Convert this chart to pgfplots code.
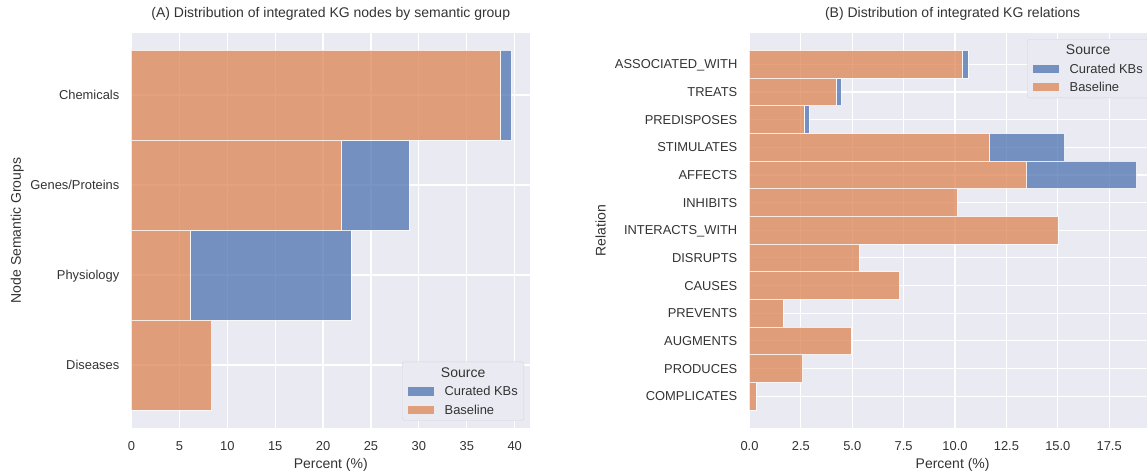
\documentclass[border=0pt]{standalone}
\usepackage{pgfplots}
\pgfplotsset{compat=1.18}
\usepackage{fontspec}
\setmainfont{Liberation Sans}

\definecolor{bg}{RGB}{234,234,242}
\definecolor{cblue}{RGB}{76,114,176}
\definecolor{corange}{RGB}{221,132,82}
\definecolor{legedge}{RGB}{212,212,218}

\newcommand\tickfont{\fontsize{12.9}{15}\selectfont}
\newcommand\labfont{\fontsize{14}{16.5}\selectfont}

\pgfplotsset{
  darkgrid/.style={
    scale only axis,
    axis background/.style={fill=bg},
    axis line style={draw=none},
    major tick length=0pt,
    tick style={draw=none},
    xmajorgrids, ymajorgrids,
    major grid style={white, line width=1.2pt},
    tick label style={font=\tickfont, text=black!80},
    /pgf/number format/assume math mode=true,
    xticklabel style={anchor=north, inner sep=0pt, yshift=-13.4pt},
    yticklabel style={anchor=base east, inner sep=0pt, xshift=-12pt, yshift=-4.6pt},
    label style={font=\labfont, text=black!80},
    title style={font=\labfont, text=black!80, anchor=south, inner sep=0pt, yshift=6.6pt},
    xlabel style={at={(axis description cs:0.5,0)}, anchor=north, inner sep=0pt, yshift=-30.3pt},
    ylabel style={at={(axis description cs:0,0.5)}, anchor=south, inner sep=0pt},
    xbar stacked, bar width=1, bar shift=0pt,
    y dir=reverse,
    legend style={
      font=\tickfont, text=black!80,
      fill=bg, draw=legedge, rounded corners=2.5pt,
      inner xsep=6pt, inner ysep=6.5pt,
      column sep=11pt, row sep=9.3pt,
      nodes={inner sep=0pt, text height=9pt, text depth=0pt},
    },
    legend cell align=left,
  },
  baseline bars/.style={fill=corange, fill opacity=0.75, draw=white, draw opacity=0.8, line width=0.6pt},
  curated bars/.style={fill=cblue, fill opacity=0.75, draw=white, draw opacity=0.8, line width=0.6pt},
  patch/.style={legend image code/.code={\fill[#1, sharp corners] (0pt,-3.8pt) rectangle (25pt,3.8pt);}},
}

\begin{document}
\begin{tikzpicture}[x=1pt, y=1pt]
\path[use as bounding box] (0,0) rectangle (1147,471);

% ---------- (A) node semantic groups ----------
\begin{axis}[
  darkgrid,
  at={(131.5pt,43pt)}, anchor=south west,
  width=398.5pt, height=395pt,
  xmin=0, xmax=41.6,
  ymin=-0.69, ymax=3.7,
  xtick={0,5,...,40},
  ytick={0,1,2,3},
  yticklabels={Chemicals, Genes/Proteins, Physiology, Diseases},
  title={(A) Distribution of integrated KG nodes by semantic group},
  title style={at={(axis description cs:0.5,1)}},
  xlabel={Percent (\%)},
  ylabel={Node Semantic Groups},
  ylabel style={yshift=107.4pt},
  legend style={at={(axis description cs:1,0)}, anchor=south east, xshift=-6pt, yshift=7.3pt},
]
% Baseline share (stack bottom)
\addplot[baseline bars, forget plot] coordinates {
  (38.50,0) (21.90,1) (6.15,2) (8.38,3)
};
% Curated KB share (stacked on top)
\addplot[curated bars, forget plot] coordinates {
  (1.15,0) (7.10,1) (16.75,2) (0,3)
};
\addlegendimage{empty legend}
\addlegendentry{\hspace*{-36pt}\makebox[109pt][c]{\labfont Source}}
\addlegendimage{patch={cblue!75!bg}}
\addlegendentry{Curated KBs}
\addlegendimage{patch={corange!75!bg}}
\addlegendentry{Baseline}
\end{axis}

% ---------- (B) relations ----------
\begin{axis}[
  darkgrid,
  at={(749.5pt,43pt)}, anchor=south west,
  width=397.5pt, height=395pt,
  xmin=0, xmax=19.34,
  ymin=-1.13, ymax=13.15,
  xtick={0,2.5,...,17.5},
  xticklabel={\pgfmathprintnumber[fixed, fixed zerofill, precision=1]{\tick}},
  ytick={0,...,12},
  yticklabels={ASSOCIATED\_WITH, TREATS, PREDISPOSES, STIMULATES, AFFECTS, INHIBITS,
    INTERACTS\_WITH, DISRUPTS, CAUSES, PREVENTS, AUGMENTS, PRODUCES, COMPLICATES},
  title={(B) Distribution of integrated KG relations},
  title style={at={(axis description cs:0.511,1)}},
  xlabel={Percent (\%)},
  xlabel style={at={(axis description cs:0.511,0)}},
  ylabel={Relation},
  ylabel style={yshift=143.5pt},
  legend style={at={(axis description cs:1,1)}, anchor=north east, xshift=2pt, yshift=-6pt},
]
\addplot[baseline bars, forget plot] coordinates {
  (10.33,0) (4.22,1) (2.65,2) (11.68,3) (13.49,4) (10.11,5) (15.00,6)
  (5.35,7) (7.30,8) (1.64,9) (4.93,10) (2.59,11) (0.31,12)
};
\addplot[curated bars, forget plot] coordinates {
  (0.30,0) (0.25,1) (0.25,2) (3.65,3) (5.35,4) (0,5) (0,6)
  (0,7) (0,8) (0,9) (0,10) (0,11) (0,12)
};
\addlegendimage{empty legend}
\addlegendentry{\hspace*{-36pt}\makebox[109pt][c]{\labfont Source}}
\addlegendimage{patch={cblue!75!bg}}
\addlegendentry{Curated KBs}
\addlegendimage{patch={corange!75!bg}}
\addlegendentry{Baseline}
\end{axis}
\end{tikzpicture}
\end{document}
